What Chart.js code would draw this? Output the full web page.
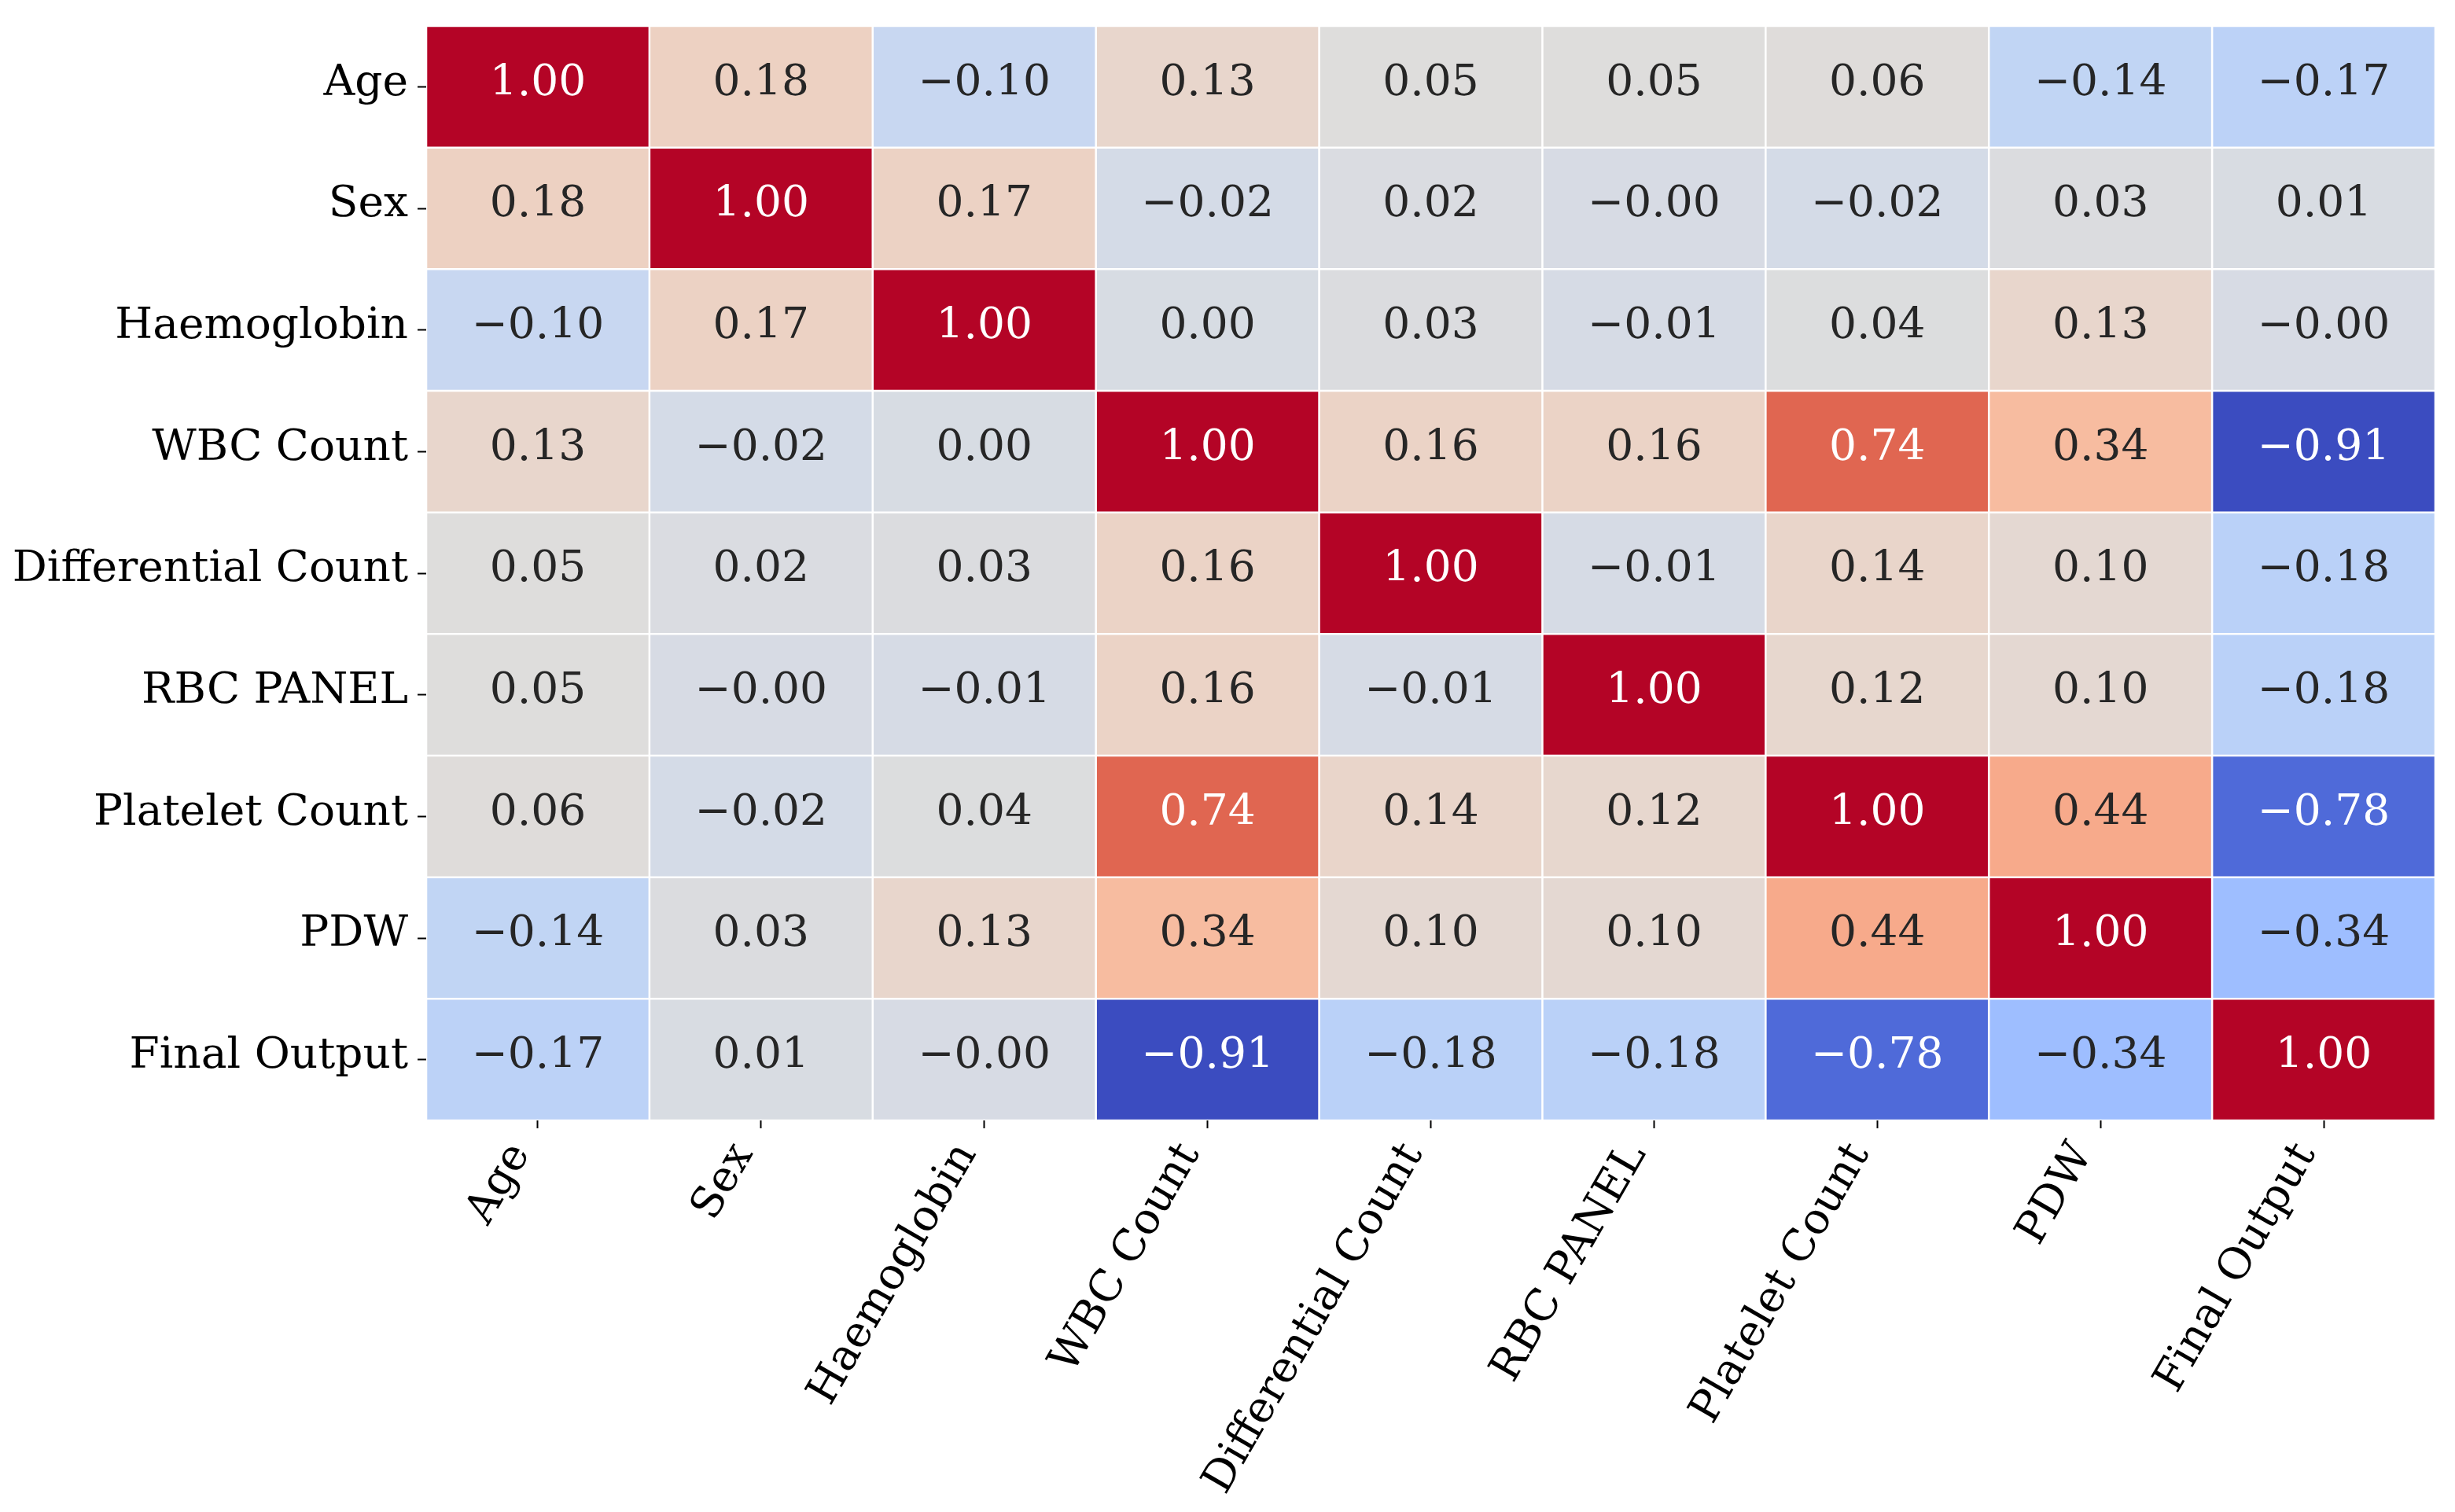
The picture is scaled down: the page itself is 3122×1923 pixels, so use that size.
<!DOCTYPE html>
<html>
<head>
<meta charset="utf-8">
<script src="https://cdn.jsdelivr.net/npm/chart.js@4"></script>
<style>
  html, body { margin: 0; padding: 0; background: #fff; }
  #wrap { width: 3122px; height: 1923px; }
</style>
</head>
<body>
<div id="wrap"><canvas id="heatmap"></canvas></div>
<script>
const features = ['Age', 'Sex', 'Haemoglobin', 'WBC Count', 'Differential Count',
  'RBC PANEL', 'Platelet Count', 'PDW', 'Final Output'];

// correlation rows, same order as features
const rowAge      = [1.00, 0.18, -0.10, 0.13, 0.05, 0.05, 0.06, -0.14, -0.17];
const rowSex      = [0.18, 1.00, 0.17, -0.02, 0.02, -0.003, -0.02, 0.03, 0.01];
const rowHaemo    = [-0.10, 0.17, 1.00, 0.002, 0.03, -0.01, 0.04, 0.13, -0.003];
const rowWbc      = [0.13, -0.02, 0.002, 1.00, 0.16, 0.16, 0.74, 0.34, -0.91];
const rowDiff     = [0.05, 0.02, 0.03, 0.16, 1.00, -0.01, 0.14, 0.10, -0.18];
const rowRbc      = [0.05, -0.003, -0.01, 0.16, -0.01, 1.00, 0.12, 0.10, -0.18];
const rowPlatelet = [0.06, -0.02, 0.04, 0.74, 0.14, 0.12, 1.00, 0.44, -0.78];
const rowPdw      = [-0.14, 0.03, 0.13, 0.34, 0.10, 0.10, 0.44, 1.00, -0.34];
const rowFinal    = [-0.17, 0.01, -0.003, -0.91, -0.18, -0.18, -0.78, -0.34, 1.00];

const corr = [rowAge, rowSex, rowHaemo, rowWbc, rowDiff, rowRbc, rowPlatelet, rowPdw, rowFinal];

// coolwarm (Moreland) control points, 33 steps
const coolwarm = [
  [59,76,192],[68,90,204],[77,104,215],[87,117,225],[98,130,234],[108,142,241],
  [119,154,247],[130,165,251],[141,176,254],[152,185,255],[163,194,255],[174,201,253],
  [184,208,249],[194,213,244],[204,217,238],[213,219,230],[221,221,221],[229,216,209],
  [236,211,197],[241,204,184],[245,196,172],[247,187,159],[247,177,147],[247,166,134],
  [244,154,123],[241,141,111],[236,127,99],[229,112,89],[222,96,77],[213,80,66],
  [203,62,56],[192,40,47],[180,4,38]
];

const allVals = corr.flat();
const vmin = Math.min(...allVals);
const vmax = Math.max(...allVals);

function cmap(v) {
  let t = (v - vmin) / (vmax - vmin);
  t = Math.max(0, Math.min(1, t));
  const pos = t * (coolwarm.length - 1);
  const i = Math.min(Math.floor(pos), coolwarm.length - 2);
  const f = pos - i;
  const a = coolwarm[i], b = coolwarm[i + 1];
  return a.map((c, k) => Math.round(c + (b[k] - c) * f));
}

function textColor(rgb) {
  const lin = rgb.map(c => {
    c = c / 255;
    return c <= 0.03928 ? c / 12.92 : Math.pow((c + 0.055) / 1.055, 2.4);
  });
  const lum = 0.2126 * lin[0] + 0.7152 * lin[1] + 0.0722 * lin[2];
  return lum > 0.408 ? '#262626' : '#ffffff';
}

function fmt(v) {
  return v.toFixed(2).replace('-', '\u2212');
}

const FONT = "'DejaVu Serif', serif";

// one dataset per row: floating bars spanning [i-0.5, i+0.5]
const datasets = corr.map((row, i) => ({
  label: features[i],
  data: row.map(() => [i - 0.5, i + 0.5]),
  backgroundColor: row.map(v => 'rgb(' + cmap(v).join(',') + ')'),
  borderColor: '#ffffff',
  borderWidth: 1.6,
  borderSkipped: false,
  barPercentage: 1,
  categoryPercentage: 1
}));

// annotation text in every cell
const cellText = {
  id: 'cellText',
  afterDatasetsDraw(chart) {
    const { ctx, scales: { x, y } } = chart;
    ctx.save();
    ctx.font = '55px ' + FONT;
    ctx.textAlign = 'center';
    ctx.textBaseline = 'middle';
    corr.forEach((row, i) => {
      row.forEach((v, j) => {
        ctx.fillStyle = textColor(cmap(v));
        ctx.fillText(fmt(v), x.getPixelForValue(j), y.getPixelForValue(i) - 4);
      });
    });
    ctx.restore();
  }
};

new Chart(document.getElementById('heatmap'), {
  type: 'bar',
  data: { labels: features, datasets: datasets },
  options: {
    responsive: true,
    maintainAspectRatio: false,
    animation: false,
    layout: { padding: { top: 33, right: 25, left: 0, bottom: 0 } },
    plugins: { legend: { display: false }, tooltip: { enabled: false } },
    scales: {
      x: {
        type: 'category',
        stacked: true,
        offset: true,
        border: { display: false },
        grid: { display: true, offset: false, drawOnChartArea: false, drawTicks: true, tickLength: 10, tickWidth: 2, color: '#000' },
        ticks: {
          autoSkip: false, minRotation: 60, maxRotation: 60, padding: 8, labelOffset: -22,
          color: '#000', font: { family: FONT, size: 55 }
        },
        afterFit: s => { s.height = 498; s.paddingLeft = 0; s.paddingRight = 0; }
      },
      y: {
        type: 'linear',
        stacked: false,
        reverse: true,
        min: -0.5,
        max: 8.5,
        border: { display: false },
        grid: { display: true, drawOnChartArea: false, drawTicks: true, tickLength: 11, tickWidth: 2, color: '#000' },
        afterBuildTicks: s => { s.ticks = features.map((_, i) => ({ value: i })); },
        ticks: {
          padding: 12, labelOffset: -4, color: '#000', font: { family: FONT, size: 55 },
          callback: v => features[v]
        },
        afterFit: s => { s.width = 542; s.paddingTop = 0; s.paddingBottom = 0; }
      }
    }
  },
  plugins: [cellText]
});
</script>
</body>
</html>
